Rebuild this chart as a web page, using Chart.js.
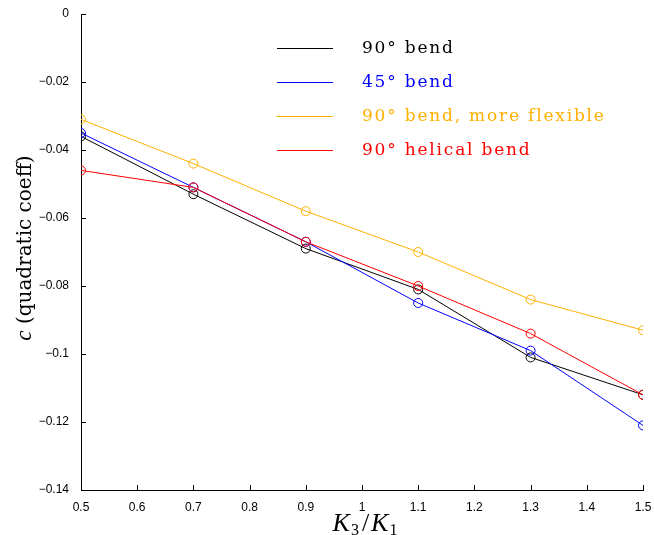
<!DOCTYPE html>
<html>
<head>
<meta charset="utf-8">
<script src="https://cdn.jsdelivr.net/npm/chart.js@4"></script>
<style>
  html, body { margin: 0; padding: 0; background: #fff; }
  #wrap { width: 654px; height: 535px; }
</style>
</head>
<body>
<div id="wrap"><canvas id="coeffChart"></canvas></div>
<script>
// K3/K1 ratios and fitted quadratic coefficient for each rod configuration
var ratios = [0.5, 0.7, 0.9, 1.1, 1.3, 1.5];
var bend90 = [-0.036, -0.053, -0.069, -0.081, -0.101, -0.112];
var bend45 = [-0.035, -0.051, -0.067, -0.085, -0.099, -0.121];
var bend90Flexible = [-0.031, -0.044, -0.058, -0.070, -0.084, -0.093];
var helical90 = [-0.046, -0.051, -0.067, -0.080, -0.094, -0.112];

var seriesLabels = ["90\u00b0 bend", "45\u00b0 bend", "90\u00b0 bend, more flexible", "90\u00b0 helical bend"];
var seriesColors = ["#000000", "#0000ff", "#ffb000", "#ff0000"];
var seriesValues = [bend90, bend45, bend90Flexible, helical90];

var yTicks = [0, -0.02, -0.04, -0.06, -0.08, -0.1, -0.12, -0.14];
var xTicks = [0.5, 0.6, 0.7, 0.8, 0.9, 1, 1.1, 1.2, 1.3, 1.4, 1.5];

function pairs(values) {
    return ratios.map(function (r, i) { return { x: r, y: values[i] }; });
}

function tickText(v) {
    var s = String(Number(Math.abs(v).toFixed(2)));
    return v < 0 ? '\u2212' + s : s;
}

var datasets = seriesValues.map(function (vals, i) {
    return {
        label: seriesLabels[i],
        data: pairs(vals),
        borderColor: seriesColors[i],
        backgroundColor: 'rgba(0,0,0,0)',
        borderWidth: 1,
        pointRadius: 4.5,
        pointBorderWidth: 1,
        pointBorderColor: seriesColors[i],
        pointBackgroundColor: 'rgba(0,0,0,0)',
        tension: 0,
        order: seriesValues.length - i   // later series drawn on top
    };
});

// inward tick marks, the legend and the axis titles
var decorations = {
    id: 'decorations',
    afterDraw: function (chart) {
        var ctx = chart.ctx;
        var area = chart.chartArea;
        var xs = chart.scales.x, ys = chart.scales.y;
        ctx.save();

        // tick marks pointing into the plot
        ctx.strokeStyle = '#000';
        ctx.lineWidth = 1;
        ctx.beginPath();
        xTicks.forEach(function (v) {
            var px = Math.round(xs.getPixelForValue(v)) + 0.5;
            ctx.moveTo(px, area.bottom);
            ctx.lineTo(px, area.bottom - 5);
        });
        yTicks.forEach(function (v) {
            var py = Math.round(ys.getPixelForValue(v)) + 0.5;
            ctx.moveTo(area.left, py);
            ctx.lineTo(area.left + 5, py);
        });
        ctx.stroke();

        // legend
        var lx = area.left + 196, ly = area.top + 34, rowH = 34;
        ctx.font = '17px "DejaVu Serif"';
        ctx.letterSpacing = '1.8px';
        ctx.textBaseline = 'middle';
        ctx.textAlign = 'left';
        chart.data.datasets.forEach(function (ds, i) {
            var y = ly + i * rowH;
            ctx.strokeStyle = ds.borderColor;
            ctx.beginPath();
            ctx.moveTo(lx, y + 0.5);
            ctx.lineTo(lx + 56, y + 0.5);
            ctx.stroke();
            ctx.fillStyle = ds.borderColor;
            ctx.fillText(ds.label, lx + 85, y + 1);
        });
        ctx.letterSpacing = '0px';

        // x title: K3/K1
        ctx.fillStyle = '#000';
        ctx.textBaseline = 'alphabetic';
        var big = 'italic 26px "Liberation Serif"', sub = '16px "Liberation Serif"', rom = '26px "Liberation Serif"';
        var parts = [[big, 'K', 0, 1], [sub, '3', 4, 3], [rom, '/', 0, 2], [big, 'K', 0, 1], [sub, '1', 4, 0]];
        var total = 0;
        parts.forEach(function (p) { ctx.font = p[0]; total += ctx.measureText(p[1]).width + p[3]; });
        var cx = 365 - total / 2, by = 531;
        parts.forEach(function (p) {
            ctx.font = p[0];
            ctx.fillText(p[1], cx, by + p[2]);
            cx += ctx.measureText(p[1]).width + p[3];
        });

        // y title: c (quadratic coeff)
        ctx.translate(31, (area.top + area.bottom) / 2 - 4);
        ctx.rotate(-Math.PI / 2);
        var c = 'italic 23px "Liberation Serif"', rest = '20px "DejaVu Serif"';
        ctx.font = c; var w1 = ctx.measureText('c').width;
        ctx.font = rest; var w2 = ctx.measureText(' (quadratic coeff)').width;
        var sx = -(w1 + w2) / 2;
        ctx.font = c; ctx.fillText('c', sx, 0);
        ctx.font = rest; ctx.fillText(' (quadratic coeff)', sx + w1, 0);
        ctx.restore();
    }
};

new Chart(document.getElementById('coeffChart'), {
    type: 'line',
    data: { datasets: datasets },
    options: {
        responsive: true,
        maintainAspectRatio: false,
        animation: false,
        layout: { padding: { left: 0, right: 11, top: 14, bottom: 0 } },
        plugins: { legend: { display: false }, tooltip: { enabled: false } },
        scales: {
            x: {
                type: 'linear',
                min: 0.5,
                max: 1.5,
                afterBuildTicks: function (s) { s.ticks = xTicks.map(function (v) { return { value: v }; }); },
                afterFit: function (s) { s.height = 45; },
                grid: { display: false },
                border: { display: true, color: '#000', width: 1 },
                ticks: {
                    color: '#000',
                    padding: 2,
                    maxRotation: 0,
                    autoSkip: false,
                    font: { family: 'Liberation Sans', size: 12 },
                    callback: tickText
                }
            },
            y: {
                type: 'linear',
                min: -0.14,
                max: 0,
                afterBuildTicks: function (s) { s.ticks = yTicks.map(function (v) { return { value: v }; }); },
                afterFit: function (s) { s.width = 81; },
                grid: { display: false },
                border: { display: true, color: '#000', width: 1 },
                ticks: {
                    color: '#000',
                    padding: 4,
                    autoSkip: false,
                    font: { family: 'Liberation Sans', size: 12 },
                    callback: tickText
                }
            }
        }
    },
    plugins: [decorations]
});
</script>
</body>
</html>
